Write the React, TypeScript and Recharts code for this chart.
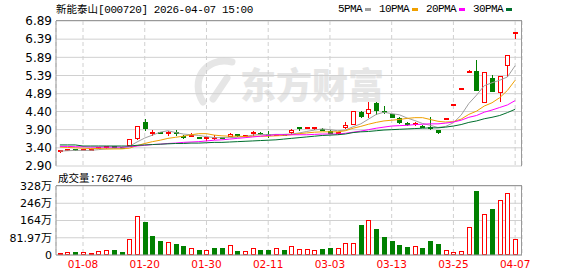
import { ComposedChart, BarChart, Bar, Line, XAxis, YAxis, CartesianGrid } from 'recharts';

// trading days 2026-01-05 .. 2026-04-07
const dates = [
  '01-05', '01-06', '01-07', '01-08', '01-09', '01-12', '01-13', '01-14', '01-15', '01-16',
  '01-19', '01-20', '01-21', '01-22', '01-23', '01-26', '01-27', '01-28', '01-29', '01-30',
  '02-02', '02-03', '02-04', '02-05', '02-06', '02-09', '02-10', '02-11', '02-12', '02-13',
  '02-24', '02-25', '02-26', '02-27', '03-02', '03-03', '03-04', '03-05', '03-06', '03-09',
  '03-10', '03-11', '03-12', '03-13', '03-16', '03-17', '03-18', '03-19', '03-20', '03-23',
  '03-24', '03-25', '03-26', '03-27', '03-30', '03-31', '04-01', '04-02', '04-03', '04-07',
];
const tickDates = ['01-08', '01-20', '01-30', '02-11', '03-03', '03-13', '03-25', '04-07'];

const opens = [
  3.28, 3.32, 3.35, 3.33, 3.34, 3.37, 3.39, 3.41, 3.40, 3.46,
  3.63, 4.12, 3.82, 3.81, 3.77, 3.82, 3.69, 3.70, 3.67, 3.66,
  3.66, 3.66, 3.71, 3.77, 3.71, 3.78, 3.82, 3.76, 3.74, 3.76,
  3.80, 3.94, 3.93, 3.91, 3.92, 3.87, 3.79, 3.94, 4.03, 4.39,
  4.32, 4.62, 4.39, 4.33, 4.21, 4.09, 4.05, 3.98, 3.98, 3.89,
  4.18, 4.57, 5.03, 5.45, 5.52, 4.63, 5.32, 4.90, 5.64, 6.52,
];
const highs = [
  3.31, 3.36, 3.36, 3.36, 3.36, 3.41, 3.42, 3.42, 3.41, 3.64,
  4.00, 4.20, 3.88, 3.83, 3.85, 3.89, 3.75, 3.80, 3.70, 3.67,
  3.76, 3.67, 3.82, 3.78, 3.76, 3.85, 3.83, 3.85, 3.78, 3.78,
  3.93, 3.94, 3.96, 3.98, 3.94, 3.88, 3.82, 4.12, 4.42, 4.42,
  4.66, 4.65, 4.55, 4.34, 4.26, 4.11, 4.12, 4.03, 4.24, 3.90,
  4.18, 4.57, 5.03, 5.53, 5.82, 5.48, 5.41, 5.39, 5.95, 6.55,
];
const lows = [
  3.27, 3.31, 3.32, 3.31, 3.32, 3.36, 3.37, 3.38, 3.37, 3.45,
  3.62, 3.86, 3.72, 3.77, 3.72, 3.73, 3.64, 3.70, 3.64, 3.58,
  3.62, 3.63, 3.70, 3.71, 3.70, 3.73, 3.75, 3.66, 3.73, 3.72,
  3.75, 3.87, 3.91, 3.90, 3.86, 3.77, 3.74, 3.91, 4.02, 4.22,
  4.23, 4.31, 4.34, 4.21, 4.05, 4.01, 3.99, 3.94, 3.90, 3.77,
  4.18, 4.57, 5.03, 5.45, 4.97, 4.63, 4.95, 4.67, 5.36, 6.39,
];
const closes = [
  3.30, 3.35, 3.33, 3.34, 3.35, 3.40, 3.41, 3.39, 3.38, 3.64,
  4.00, 3.92, 3.82, 3.78, 3.81, 3.79, 3.68, 3.75, 3.66, 3.67,
  3.66, 3.64, 3.78, 3.72, 3.75, 3.84, 3.76, 3.74, 3.76, 3.73,
  3.89, 3.93, 3.94, 3.97, 3.87, 3.78, 3.80, 4.02, 4.42, 4.26,
  4.47, 4.42, 4.35, 4.22, 4.09, 4.03, 4.06, 3.97, 3.93, 3.80,
  4.18, 4.57, 5.03, 5.51, 4.97, 5.48, 4.95, 5.39, 5.95, 6.55,
];
const volumes = [
  95000, 127000, 158000, 127000, 95000, 190000, 238000, 238000, 158000, 745000,
  1850000, 1580000, 900000, 680000, 620000, 520000, 430000, 320000, 240000, 240000,
  330000, 330000, 460000, 190000, 190000, 350000, 240000, 240000, 320000, 240000,
  410000, 300000, 270000, 220000, 285000, 330000, 320000, 550000, 550000, 1420000,
  1650000, 1240000, 860000, 665000, 475000, 380000, 410000, 330000, 665000, 520000,
  220000, 127000, 170000, 1310000, 3040000, 1950000, 2190000, 2610000, 2930000, 762746,
];
const ma5 = [
  3.31, 3.32, 3.33, 3.33, 3.33, 3.35, 3.37, 3.38, 3.39, 3.44,
  3.56, 3.67, 3.75, 3.83, 3.87, 3.82, 3.78, 3.76, 3.74, 3.71,
  3.68, 3.68, 3.68, 3.69, 3.71, 3.75, 3.77, 3.76, 3.77, 3.77,
  3.78, 3.81, 3.85, 3.89, 3.92, 3.90, 3.87, 3.89, 3.98, 4.06,
  4.19, 4.32, 4.38, 4.34, 4.31, 4.22, 4.15, 4.07, 4.02, 3.96,
  3.99, 4.09, 4.30, 4.62, 4.85, 5.11, 5.19, 5.26, 5.35, 5.66,
];
const ma10 = [
  3.42, 3.41, 3.40, 3.39, 3.38, 3.38, 3.37, 3.37, 3.37, 3.39,
  3.46, 3.52, 3.57, 3.61, 3.66, 3.69, 3.72, 3.76, 3.79, 3.79,
  3.75, 3.73, 3.72, 3.72, 3.71, 3.72, 3.72, 3.72, 3.73, 3.74,
  3.76, 3.79, 3.81, 3.83, 3.84, 3.84, 3.84, 3.87, 3.94, 3.99,
  4.05, 4.10, 4.14, 4.16, 4.18, 4.21, 4.23, 4.23, 4.18, 4.13,
  4.11, 4.12, 4.19, 4.32, 4.41, 4.55, 4.64, 4.78, 4.98, 5.26,
];
const ma20 = [
  3.44, 3.44, 3.43, 3.43, 3.42, 3.42, 3.42, 3.42, 3.42, 3.43,
  3.45, 3.47, 3.49, 3.50, 3.52, 3.53, 3.55, 3.56, 3.57, 3.59,
  3.61, 3.62, 3.64, 3.66, 3.68, 3.70, 3.72, 3.74, 3.76, 3.76,
  3.76, 3.76, 3.76, 3.77, 3.78, 3.78, 3.78, 3.80, 3.83, 3.86,
  3.90, 3.94, 3.97, 4.00, 4.01, 4.02, 4.04, 4.05, 4.06, 4.06,
  4.08, 4.11, 4.16, 4.24, 4.29, 4.38, 4.44, 4.51, 4.58, 4.70,
];
const ma30 = [
  3.48, 3.48, 3.48, 3.45, 3.45, 3.45, 3.45, 3.45, 3.45, 3.45,
  3.47, 3.48, 3.49, 3.50, 3.51, 3.52, 3.52, 3.53, 3.53, 3.54,
  3.55, 3.55, 3.56, 3.57, 3.58, 3.59, 3.60, 3.61, 3.62, 3.64,
  3.66, 3.68, 3.70, 3.72, 3.74, 3.75, 3.76, 3.78, 3.82, 3.84,
  3.85, 3.87, 3.89, 3.90, 3.91, 3.92, 3.93, 3.94, 3.95, 3.95,
  3.97, 4.00, 4.04, 4.10, 4.14, 4.20, 4.24, 4.29, 4.37, 4.46,
];

const priceTickLabels = ['2.90', '3.40', '3.90', '4.40', '4.89', '5.39', '5.89', '6.39', '6.89'];
const volTicks = [0, 819700, 1639400, 2459100, 3278800];
const volTickLabels = ['0', '81.97万', '164万', '246万', '328万'];
const maNames = ['5PMA', '10PMA', '20PMA', '30PMA'];

const RED = '#ff0000';
const GREEN = '#008000';
const MA_COLORS = ['#a0a0a0', '#f0a000', '#ff00ff', '#006f2e'];
const GRID = '#d0d0d0';
const BORDER = '#999999';

const priceTicks = priceTickLabels.map(Number);

const rows = dates.map((date, i) => ({
  date,
  open: opens[i],
  high: highs[i],
  low: lows[i],
  close: closes[i],
  vol: volumes[i],
  volUp: i === 0 ? true : closes[i] >= closes[i - 1],
  ma5: ma5[i],
  ma10: ma10[i],
  ma20: ma20[i],
  ma30: ma30[i],
}));

function Candle(props: any) {
  const { x, y, width, height, payload } = props;
  if (!payload || x == null || y == null) return <g />;
  const { open, close, high, low } = payload;
  const top = Math.min(y, y + height);
  const bottom = Math.max(y, y + height);
  const span = high - low;
  const py = (v: number) => (span > 0 ? top + ((high - v) / span) * (bottom - top) : top);
  const cx = Math.round(x + width / 2);
  const up = close >= open;
  const color = up ? RED : GREEN;
  const bTop = Math.round(py(Math.max(open, close)));
  const bBot = Math.round(py(Math.min(open, close)));
  const hiY = Math.round(top);
  const loY = Math.round(bottom);
  const wx = cx + 0.5;
  if (bBot - bTop < 2) {
    return (
      <g>
        {loY > hiY && <line x1={wx} x2={wx} y1={hiY} y2={loY} stroke={color} />}
        <rect x={cx - 2} y={bTop - 1} width={5} height={2} fill={color} />
      </g>
    );
  }
  if (up) {
    return (
      <g>
        {bTop > hiY && <line x1={wx} x2={wx} y1={hiY} y2={bTop} stroke={color} />}
        {loY > bBot && <line x1={wx} x2={wx} y1={bBot} y2={loY} stroke={color} />}
        <rect x={cx - 1.5} y={bTop + 0.5} width={4} height={bBot - bTop - 1} fill="#fff" stroke={color} />
      </g>
    );
  }
  return (
    <g>
      <line x1={wx} x2={wx} y1={hiY} y2={loY} stroke={color} />
      <rect x={cx - 2} y={bTop} width={5} height={bBot - bTop} fill={color} />
    </g>
  );
}

function VolBar(props: any) {
  const { x, y, width, height, payload } = props;
  if (!payload || x == null || y == null) return <g />;
  const cx = Math.round(x + width / 2);
  const top = Math.round(Math.min(y, y + height));
  const bottom = Math.round(Math.max(y, y + height));
  if (payload.volUp) {
    return (
      <rect x={cx - 1.5} y={top + 0.5} width={4} height={Math.max(bottom - top - 1, 0)} fill="#fff" stroke={RED} />
    );
  }
  return <rect x={cx - 2} y={top} width={5} height={bottom - top} fill={GREEN} />;
}

const monoFont = "'Liberation Mono', monospace";
const cjkFont = "'Noto Sans CJK SC', sans-serif";

export default function App() {
  return (
    <div style={{ position: 'absolute', left: 0, top: 0, width: 578, height: 276, background: '#fff', overflow: 'hidden' }}>
      {/* watermark */}
      <svg width={578} height={276} style={{ position: 'absolute', left: 0, top: 0 }}>
        <g fill="none" stroke="#e6e6e6" strokeWidth={7} strokeLinecap="round">
          <path d="M 232 62 C 204 56, 190 82, 203 102" />
          <path d="M 227 78 L 213 99" />
        </g>
        <text x={240} y={99} fontSize={36} fontWeight={900} fill="#e6e6e6" fontFamily={cjkFont}>
          东方财富
        </text>
      </svg>

      {/* title */}
      <div style={{ position: 'absolute', left: 56, top: 0, height: 16, lineHeight: '16px', whiteSpace: 'nowrap', color: '#000' }}>
        <span style={{ fontFamily: cjkFont, fontSize: 10.5 }}>新能泰山</span>
        <span style={{ fontFamily: monoFont, fontSize: 11, letterSpacing: -0.4 }}>[000720] 2026-04-07 15:00</span>
      </div>

      {/* legend */}
      <div style={{ position: 'absolute', left: 338, top: 1, height: 16, display: 'flex', alignItems: 'center', gap: 8, whiteSpace: 'nowrap' }}>
        {maNames.map((name, i) => (
          <div key={name} style={{ display: 'flex', alignItems: 'center' }}>
            <span style={{ fontFamily: monoFont, fontSize: 11, letterSpacing: -0.6, color: '#000' }}>{name}</span>
            <span style={{ display: 'inline-block', width: 6, height: 3, marginLeft: 3, background: MA_COLORS[i] }} />
          </div>
        ))}
      </div>

      {/* price panel */}
      <div style={{ position: 'absolute', left: 0, top: 0 }}>
        <ComposedChart width={578} height={176} data={rows} margin={{ top: 21, right: 56, bottom: 10, left: 0 }}>
          <CartesianGrid stroke={GRID} vertical={false} />
          <CartesianGrid stroke={GRID} horizontal={false} strokeDasharray="4 3" />
          <XAxis dataKey="date" hide ticks={tickDates} interval={0} padding={{ left: 0, right: 3 }} />
          <YAxis
            domain={[priceTicks[0], priceTicks[priceTicks.length - 1]]}
            ticks={priceTicks}
            interval={0}
            allowDataOverflow
            width={56}
            tickLine={false}
            tickSize={0}
            tickMargin={4}
            axisLine={{ stroke: BORDER }}
            tickFormatter={(_v: number, i: number) => priceTickLabels[i]}
            tick={{ fill: '#000', fontSize: 12, fontFamily: 'DejaVu Sans' }}
          />
          <Bar dataKey={(d: any) => [d.low, d.high]} shape={(p: any) => <Candle {...p} />} isAnimationActive={false} />
          <Line dataKey="ma5" stroke={MA_COLORS[0]} strokeWidth={1} dot={false} isAnimationActive={false} />
          <Line dataKey="ma10" stroke={MA_COLORS[1]} strokeWidth={1} dot={false} isAnimationActive={false} />
          <Line dataKey="ma20" stroke={MA_COLORS[2]} strokeWidth={1} dot={false} isAnimationActive={false} />
          <Line dataKey="ma30" stroke={MA_COLORS[3]} strokeWidth={1} dot={false} isAnimationActive={false} />
        </ComposedChart>
      </div>
      <div style={{ position: 'absolute', left: 56, top: 20, width: 466, height: 146, borderTop: `1px solid ${BORDER}`, borderRight: `1px solid ${BORDER}`, boxSizing: 'border-box', pointerEvents: 'none' }} />

      {/* volume label */}
      <div style={{ position: 'absolute', left: 58, top: 169, height: 16, lineHeight: '16px', whiteSpace: 'nowrap', color: '#000' }}>
        <span style={{ fontFamily: cjkFont, fontSize: 10.5 }}>成交量</span>
        <span style={{ fontFamily: monoFont, fontSize: 11, letterSpacing: -0.5 }}>:{volumes[volumes.length - 1]}</span>
      </div>

      {/* volume panel */}
      <div style={{ position: 'absolute', left: 0, top: 170 }}>
        <BarChart width={578} height={106} data={rows} margin={{ top: 16, right: 56, bottom: 0, left: 0 }}>
          <CartesianGrid stroke={GRID} vertical={false} />
          <CartesianGrid stroke={GRID} horizontal={false} strokeDasharray="4 3" />
          <XAxis
            dataKey="date"
            ticks={tickDates}
            interval={0}
            padding={{ left: 0, right: 3 }}
            height={21}
            tickLine={false}
            tickSize={0}
            tickMargin={6}
            axisLine={{ stroke: BORDER }}
            tick={{ fill: RED, fontSize: 10.5, fontFamily: 'DejaVu Sans' }}
          />
          <YAxis
            domain={[volTicks[0], volTicks[volTicks.length - 1]]}
            ticks={volTicks}
            interval={0}
            allowDataOverflow
            width={56}
            tickLine={false}
            tickSize={0}
            tickMargin={4}
            axisLine={{ stroke: BORDER }}
            tickFormatter={(_v: number, i: number) => volTickLabels[i]}
            tick={{ fill: '#000', fontSize: 11, fontFamily: "'DejaVu Sans', 'Noto Sans CJK SC'" }}
          />
          <Bar dataKey="vol" shape={(p: any) => <VolBar {...p} />} isAnimationActive={false} />
        </BarChart>
      </div>
      <div style={{ position: 'absolute', left: 56, top: 185, width: 466, height: 70, borderTop: `1px solid ${BORDER}`, borderRight: `1px solid ${BORDER}`, boxSizing: 'border-box', pointerEvents: 'none' }} />
    </div>
  );
}
